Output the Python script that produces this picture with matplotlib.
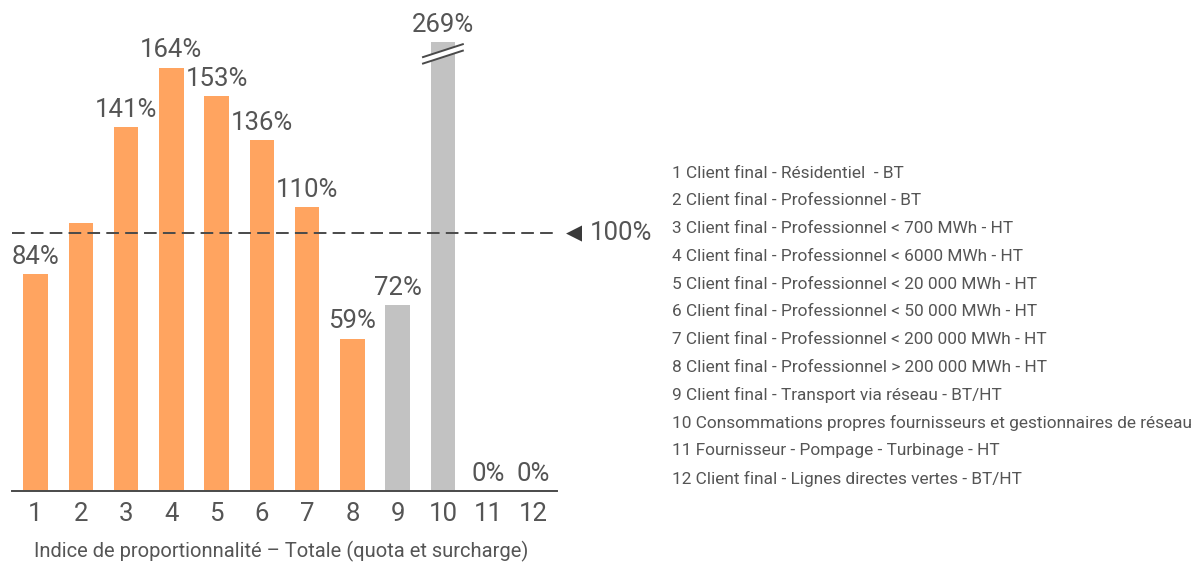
import matplotlib
matplotlib.use("Agg")
import matplotlib.pyplot as plt
from matplotlib.patches import Polygon
from matplotlib.lines import Line2D

plt.rcParams['font.family'] = ['Roboto', 'DejaVu Sans']

# Data
categories = [str(i) for i in range(1, 13)]
values = [84, 104, 141, 164, 153, 136, 110, 59, 72, 269, 0, 0]
labels = ["84%", "", "141%", "164%", "153%", "136%", "110%", "59%", "72%", "269%", "0%", "0%"]
groups = ["orange"] * 8 + ["gray"] * 4
reference_level = 100
reference_label = "100%"
y_cap = 174
legend_items = [
    "1 Client final - Résidentiel  - BT",
    "2 Client final - Professionnel - BT",
    "3 Client final - Professionnel < 700 MWh - HT",
    "4 Client final - Professionnel < 6000 MWh - HT",
    "5 Client final - Professionnel < 20 000 MWh - HT",
    "6 Client final - Professionnel < 50 000 MWh - HT",
    "7 Client final - Professionnel < 200 000 MWh - HT",
    "8 Client final - Professionnel > 200 000 MWh - HT",
    "9 Client final - Transport via réseau - BT/HT",
    "10 Consommations propres fournisseurs et gestionnaires de réseau",
    "11 Fournisseur - Pompage - Turbinage - HT",
    "12 Client final - Lignes directes vertes - BT/HT",
]
x_title = "Indice de proportionnalité – Totale (quota et surcharge)"

palette = {"orange": "#FFA460", "gray": "#C2C2C2"}
text_color = "#555555"
line_color = "#4A4A4A"
big = 18.5

fig = plt.figure(figsize=(11.94, 5.63), dpi=100)
ax = fig.add_axes([12 / 1194, 72 / 563, 545 / 1194, 449 / 563])

xs = list(range(1, len(values) + 1))
bars = ax.bar(xs, values, width=0.54, color=[palette[g] for g in groups], zorder=2)
ax.set_xlim(0.48, 12.52)
ax.set_ylim(0, y_cap)

# value labels
for x, v, lab in zip(xs, values, labels):
    if not lab:
        continue
    ax.annotate(lab, xy=(x, min(v, y_cap)), xytext=(0, 7.5), textcoords="offset points",
                ha="center", va="baseline", fontsize=big, color=text_color,
                clip_on=False, annotation_clip=False)

# break marks on the truncated bar
bx = xs[values.index(max(values))]
yc, dy, half = 169.4, 2.5, 0.44
slope = 5.0
poly = Polygon([(bx - half, yc - slope / 2 - dy / 2), (bx + half, yc + slope / 2 - dy / 2),
                (bx + half, yc + slope / 2 + dy / 2), (bx - half, yc - slope / 2 + dy / 2)],
               closed=True, facecolor="white", edgecolor="none", zorder=3)
ax.add_patch(poly)
for off in (-dy / 2, dy / 2):
    ax.add_line(Line2D([bx - half, bx + half], [yc - slope / 2 + off, yc + slope / 2 + off],
                       color=line_color, lw=1.4, zorder=4))

# reference line
ax.axhline(reference_level, color=line_color, lw=1.4, dashes=(6.5, 3.2), zorder=3)
fig.text(574 / 1194, 1 - 233 / 563, "◀", ha="center", va="center", fontsize=15,
         color="#3A3A3A", family=["DejaVu Sans"])
fig.text(590 / 1194, 1 - 233 / 563, reference_label, ha="left", va="center",
         fontsize=big, color=text_color)

# axes styling
for s in ("top", "right", "left"):
    ax.spines[s].set_visible(False)
ax.spines["bottom"].set_color(line_color)
ax.spines["bottom"].set_linewidth(1.4)
ax.set_yticks([])
ax.set_xticks(xs)
ax.set_xticklabels(categories, fontsize=big, color=text_color)
ax.tick_params(axis="x", length=0, pad=8)
fig.text(281 / 1194, 1 - 551 / 563, x_title, ha="center", va="center",
         fontsize=14.5, color=text_color)

# category legend
for i, item in enumerate(legend_items):
    fig.text(672 / 1194, 1 - (173 + i * 27.8) / 563, item, ha="left", va="center",
             fontsize=12.4, color=text_color)

fig.savefig("out.png", dpi=100, facecolor="white")
